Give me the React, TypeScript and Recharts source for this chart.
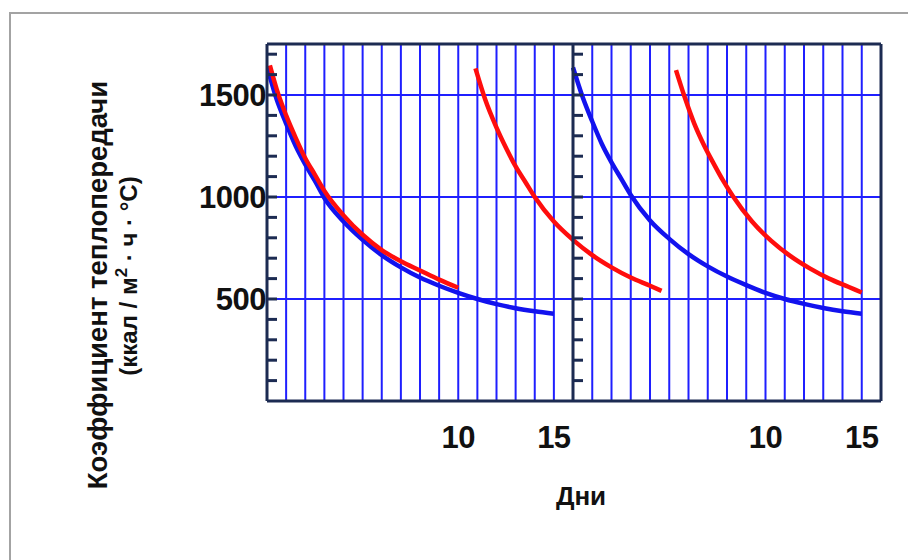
import React from 'react';
import { LineChart, Line, XAxis, YAxis, CartesianGrid, ReferenceLine } from 'recharts';

// day ticks for each panel (1 day per grid line), only some get labels
const panelDays = [0, 1, 2, 3, 4, 5, 6, 7, 8, 9, 10, 11, 12, 13, 14, 15, 16];
const labeledDays = [10, 15];
const valueTicks = [100, 200, 300, 400, 500, 600, 700, 800, 900, 1000, 1100, 1200, 1300, 1400, 1500, 1600, 1700];
const labeledValues = [500, 1000, 1500];
const gridValues = [500, 1000, 1500];
const yMax = 1750;

// curves, [day, value]; day counted across both panels (second panel = days 16..32)
const blueFirst: [number, number][] = [
  [0, 1640], [0.5, 1480], [1, 1360], [1.5, 1250], [2, 1160], [2.5, 1080], [3, 995],
  [4, 880], [5, 790], [6, 715], [7, 655], [8, 605], [9, 565], [10, 530],
  [11, 500], [12, 475], [13, 455], [14, 440], [15, 428],
];
const redFirst: [number, number][] = [
  [0.15, 1645], [0.5, 1530], [1, 1400], [1.5, 1290], [2, 1190], [2.5, 1110], [3, 1030],
  [4, 910], [5, 815], [6, 740], [7, 685], [8, 640], [9, 595], [10, 555],
];
const redSecond: [number, number][] = [
  [10.9, 1630], [11.4, 1480], [12, 1340], [12.5, 1240], [13, 1150], [13.5, 1075], [14, 1000],
  [15, 880], [16, 790], [17, 715], [18, 655], [19, 605], [20, 565], [20.6, 540],
];
const blueSecond: [number, number][] = [
  [16, 1635], [16.5, 1490], [17, 1370], [17.5, 1260], [18, 1170], [18.5, 1090], [19, 1010],
  [20, 885], [21, 795], [22, 720], [23, 660], [24, 610], [25, 568], [26, 530],
  [27, 500], [28, 476], [29, 456], [30, 440], [31, 428],
];
const redThird: [number, number][] = [
  [21.35, 1622], [21.8, 1490], [22.3, 1360], [22.8, 1255], [23.3, 1165], [23.8, 1080], [24.3, 1005],
  [25.3, 880], [26.3, 785], [27.3, 710], [28.3, 650], [29.3, 600], [30.3, 560], [31, 532],
];

const toRows = (pts: [number, number][]) => pts.map(([day, value]) => ({ day, value }));

const curves = [
  { key: 'b1', data: toRows(blueFirst), color: '#1212ee' },
  { key: 'b2', data: toRows(blueSecond), color: '#1212ee' },
  { key: 'r1', data: toRows(redFirst), color: '#ff0d0d' },
  { key: 'r2', data: toRows(redSecond), color: '#ff0d0d' },
  { key: 'r3', data: toRows(redThird), color: '#ff0d0d' },
];

const FRAME = '#1c2b52';
const GRID = '#1f1fff';
const FONT = '"Liberation Sans", Arial, sans-serif';

const ValueTick = (props: any) => {
  const { x, y, payload, showText } = props;
  return (
    <g>
      <line x1={x} x2={x + 10} y1={y} y2={y} stroke={FRAME} strokeWidth={3} />
      {showText && labeledValues.includes(payload.value) && (
        <text x={x - 1} y={y} dy={11} textAnchor="end" fontFamily={FONT} fontWeight="bold" fontSize={31} letterSpacing={-0.5} fill="#111">
          {payload.value}
        </text>
      )}
    </g>
  );
};

const DayTick = (props: any) => {
  const { x, y, payload, offset } = props;
  const d = payload.value - offset;
  if (!labeledDays.includes(d)) return null;
  return (
    <text x={x} y={y} dy={47} textAnchor="middle" fontFamily={FONT} fontWeight="bold" fontSize={31} letterSpacing={-0.5} fill="#111">
      {d}
    </text>
  );
};

const Panel = ({ offset, first }: { offset: number; first: boolean }) => {
  const ticks = panelDays.map(d => d + offset);
  return (
    <LineChart
      width={first ? 393 : 330}
      height={431}
      margin={{ top: 14, right: first ? 0 : 12, bottom: 0, left: 0 }}
    >
      <CartesianGrid horizontal={false} stroke={GRID} strokeWidth={2} />
      <XAxis
        dataKey="day"
        type="number"
        domain={[offset, offset + 16]}
        ticks={ticks}
        interval={0}
        allowDataOverflow
        height={60}
        tickSize={0}
        tickMargin={0}
        tickLine={false}
        axisLine={{ stroke: FRAME, strokeWidth: 3 }}
        tick={<DayTick offset={offset} />}
      />
      <YAxis
        type="number"
        domain={[0, yMax]}
        ticks={valueTicks}
        interval={0}
        allowDataOverflow
        width={first ? 87 : 10}
        tickSize={0}
        tickMargin={0}
        tickLine={false}
        axisLine={{ stroke: FRAME, strokeWidth: 3 }}
        tick={<ValueTick showText={first} />}
      />
      {gridValues.map(v => (
        <ReferenceLine key={v} y={v} stroke={GRID} strokeWidth={2} />
      ))}
      <ReferenceLine y={yMax} stroke={FRAME} strokeWidth={3} />
      {!first && <ReferenceLine x={offset + 16} stroke={FRAME} strokeWidth={3} />}
      {curves.map(c => (
        <Line
          key={c.key}
          data={c.data}
          dataKey="value"
          type="monotone"
          stroke={c.color}
          strokeWidth={4.5}
          dot={false}
          activeDot={false}
          isAnimationActive={false}
        />
      ))}
    </LineChart>
  );
};

export default function App() {
  return (
    <div style={{ position: 'absolute', left: 0, top: 0, width: 908, height: 560, background: '#fff' }}>
      <div
        style={{
          position: 'absolute', left: 9, top: 12, width: 899, height: 548,
          borderTop: '2px solid #a3a3a3', borderLeft: '2px solid #a3a3a3',
        }}
      />
      <div style={{ position: 'absolute', left: 180, top: 30 }}>
        <Panel offset={0} first />
      </div>
      <div style={{ position: 'absolute', left: 563, top: 30 }}>
        <Panel offset={16} first={false} />
      </div>
      <svg width={908} height={560} style={{ position: 'absolute', left: 0, top: 0, pointerEvents: 'none' }}>
        <text
          transform="translate(107, 285) rotate(-90)"
          textAnchor="middle"
          fontFamily={FONT}
          fontWeight="bold"
          fontSize={27.5}
          fill="#111"
        >
          Коэффициент теплопередачи
        </text>
        <text
          transform="translate(137, 276) rotate(-90)"
          textAnchor="middle"
          fontFamily={FONT}
          fontWeight="bold"
          fontSize={24}
          fill="#111"
        >
          (ккал / м<tspan fontSize={17} dy={-10}>2</tspan><tspan dy={10}> · ч · °С)</tspan>
        </text>
        <text x={581} y={505} textAnchor="middle" fontFamily={FONT} fontWeight="bold" fontSize={26} fill="#111">
          Дни
        </text>
      </svg>
    </div>
  );
}
